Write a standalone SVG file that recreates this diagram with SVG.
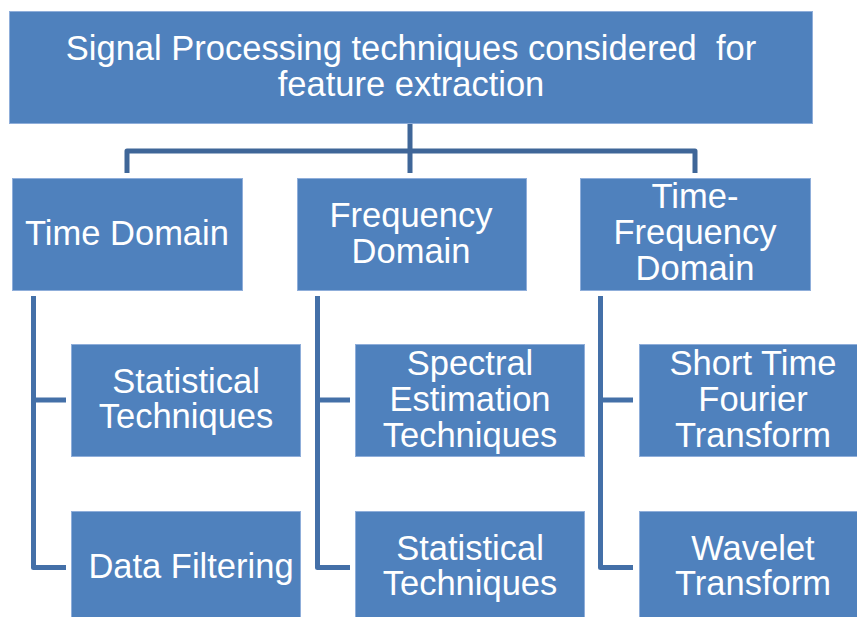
<svg xmlns="http://www.w3.org/2000/svg" width="857" height="617" viewBox="0 0 857 617">
<style>
.box{fill:#4F81BD;stroke:#8FAEDA;stroke-width:1}
.t{font-family:"Liberation Sans",Arial,sans-serif;font-size:34.5px;fill:#FFFFFF;text-anchor:middle;white-space:pre}
.c{fill:none;stroke:#4470A8;stroke-width:5;stroke-linejoin:round}
.ct{fill:none;stroke:#3F6698;stroke-width:5;stroke-linejoin:round}
</style>
<rect width="857" height="617" fill="#FFFFFF"/>
<g id="connectors">
<path class="ct" d="M410 124V151M127 173V151H695V173M410 151V173"/>
<path class="c" d="M33.5 296V567.5H66M33.5 400H66"/>
<path class="c" d="M317.5 296V567.5H350M317.5 400H350"/>
<path class="c" d="M600.5 296V567.5H633M600.5 400H633"/>
</g>
<g id="root">
<rect class="box" x="9.5" y="11.5" width="803" height="112"/>
<text class="t" x="411" y="60" xml:space="preserve">Signal Processing techniques considered  for</text>
<text class="t" x="411" y="96">feature extraction</text>
</g>
<g id="time-domain">
<rect class="box" x="12.5" y="178.5" width="230" height="112"/>
<text class="t" x="127" y="245">Time Domain</text>
</g>
<g id="frequency-domain">
<rect class="box" x="297.5" y="178.5" width="229" height="112"/>
<text class="t" x="411" y="227">Frequency</text>
<text class="t" x="411" y="263">Domain</text>
</g>
<g id="time-frequency-domain">
<rect class="box" x="580.5" y="178.5" width="230" height="112"/>
<text class="t" x="695" y="208">Time-</text>
<text class="t" x="695" y="244">Frequency</text>
<text class="t" x="695" y="280">Domain</text>
</g>
<g id="td-statistical">
<rect class="box" x="71.5" y="344.5" width="229" height="112"/>
<text class="t" x="186" y="393">Statistical</text>
<text class="t" x="186" y="428">Techniques</text>
</g>
<g id="td-data-filtering">
<rect class="box" x="71.5" y="511.5" width="229" height="112"/>
<text class="t" x="191" y="578">Data Filtering</text>
</g>
<g id="fd-spectral">
<rect class="box" x="355.5" y="344.5" width="229" height="112"/>
<text class="t" x="470" y="375">Spectral</text>
<text class="t" x="470" y="411">Estimation</text>
<text class="t" x="470" y="447">Techniques</text>
</g>
<g id="fd-statistical">
<rect class="box" x="355.5" y="511.5" width="229" height="112"/>
<text class="t" x="470" y="560">Statistical</text>
<text class="t" x="470" y="595">Techniques</text>
</g>
<g id="tfd-stft">
<rect class="box" x="639.5" y="344.5" width="225" height="112"/>
<text class="t" x="753" y="375">Short Time</text>
<text class="t" x="753" y="411">Fourier</text>
<text class="t" x="753" y="447">Transform</text>
</g>
<g id="tfd-wavelet">
<rect class="box" x="639.5" y="511.5" width="225" height="112"/>
<text class="t" x="753" y="560">Wavelet</text>
<text class="t" x="753" y="595">Transform</text>
</g>
</svg>
